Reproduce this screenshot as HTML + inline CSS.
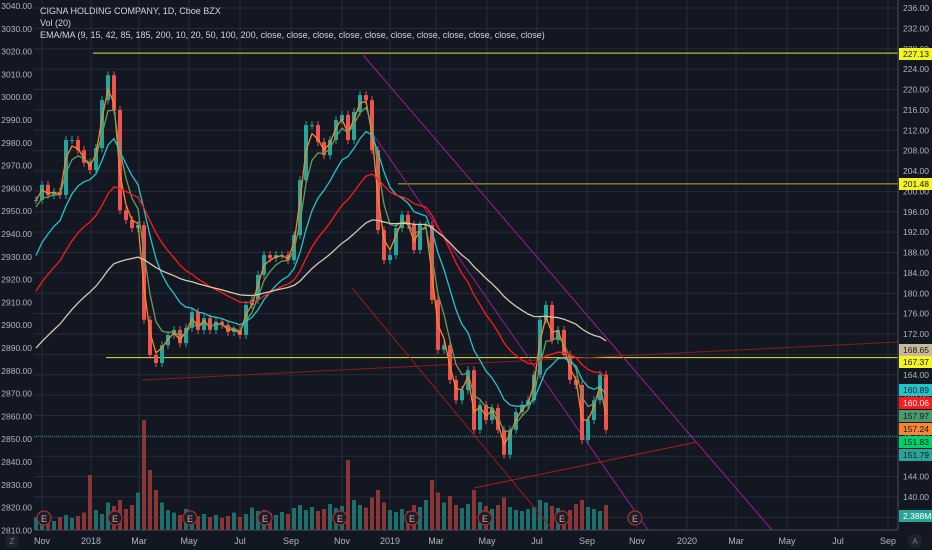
<!DOCTYPE html>
<html><head><meta charset="utf-8"><style>
html,body{margin:0;padding:0;background:#131722;overflow:hidden}
svg{display:block;font-family:"Liberation Sans",sans-serif}
</style></head><body>
<svg id="c" width="932" height="550"></svg>
<script>
const closes=[198.3,201.3,199.3,199.9,199.3,210.1,210.1,208.1,205.6,204.2,208.5,217.9,222.8,216.0,196.3,194.4,192.8,193.4,174.8,167.9,166.3,169.8,171.8,172.8,170.2,173.2,176.3,172.8,175.1,172.8,174.4,173.8,172.4,172.8,171.8,177.7,178.7,183.6,187.5,186.9,187.5,187.5,186.5,191.4,202.2,213.0,213.0,209.7,207.1,210.1,214.0,215.0,210.1,215.6,218.9,217.9,208.1,192.4,186.5,187.5,192.8,195.4,193.4,188.5,193.4,193.4,178.7,168.9,169.8,163.0,159.0,161.0,164.9,153.2,158.1,155.1,157.5,153.2,148.3,153.2,156.7,158.1,159.0,164.0,174.8,177.7,170.8,172.8,167.9,163.0,162.0,151.2,155.1,159.0,164.0,153.2];
const volumes=[2.5,2.0,2.2,1.8,2.6,3.0,2.4,2.8,3.5,11,4.0,3.2,5.5,4.8,6.0,4.2,5.0,7.5,22,12,8.0,5.5,4.0,3.5,3.0,4.2,3.6,2.8,3.2,2.6,3.0,2.4,2.8,3.5,2.6,3.2,4.5,3.8,4.0,3.4,3.0,3.6,3.2,4.4,5.0,4.0,4.6,3.8,4.2,5.2,4.4,4.8,14,6.0,5.0,4.5,6.5,8.0,5.5,4.0,3.6,4.2,3.8,5.0,4.6,6.0,10,7.5,5.5,6.8,5.0,4.4,5.2,8.0,5.6,4.8,4.2,5.0,6.5,4.6,4.0,3.8,4.2,4.6,6.0,5.5,4.8,4.4,3.6,4.0,5.2,6.0,4.6,4.2,3.8,5.0];
const emaSpecs=[{p:2,seed:198,c:"#f7862f",n:"ema-9-line"},{p:4,seed:196,c:"#6a9a5f",n:"ema-15-line"},{p:10,seed:185,c:"#21c5c9",n:"ema-42-line"},{p:22,seed:178.7,c:"#ff1a1a",n:"ema-85-line"},{p:48,seed:168,c:"#d8c8b0",n:"ma-200-line"}];
const rightTicks=[236,232,228,224,220,216,212,208,204,200,196,192,188,184,180,176,172,168,164,160,156,152,148,144,140,136];
const leftTicks=[3040,3030,3020,3010,3000,2990,2980,2970,2960,2950,2940,2930,2920,2910,2900,2890,2880,2870,2860,2850,2840,2830,2820,2810];
const monthLabels=["Nov","2018","Mar","May","Jul","Sep","Nov","2019","Mar","May","Jul","Sep","Nov","2020","Mar","May","Jul","Sep"];
const monthX=[42,91,139,189,240,291,342,390,436,487,537,587,637,687,736,787,838,888];
const earnings=[44,115,190,265,340,412,485,562,635];

const NS="http://www.w3.org/2000/svg",svg=document.getElementById('c');
function el(t,a,p){const e=document.createElementNS(NS,t);for(const k in a)e.setAttribute(k,a[k]);(p||svg).appendChild(e);return e;}
const yP=v=>8+(236-v)*5.094;
const yL=v=>6+(3040-v)*2.28;
const xI=i=>36+i*6;
const yV=v=>530-v*5;

for(const v of rightTicks){const l=el('line',{x1:34,x2:898,y1:yP(v),y2:yP(v),stroke:'#262b38','stroke-width':1});

}
for(const x of monthX){const l=el('line',{x1:x,x2:x,y1:0,y2:530,stroke:'#262b38','stroke-width':1});

}

volumes.forEach((v,i)=>{const up=i==0||closes[i]>=closes[i-1];
const r=el('rect',{x:xI(i)-2,y:yV(v),width:4,height:530-yV(v),fill:up?'#1e6f6b':'#8a3636'});

});

function hl(y,x1,c,n,dash){const l=el('line',{x1:x1,x2:898,y1:y,y2:y,stroke:c,'stroke-width':1,'stroke-dasharray':dash||''});

}
hl(yP(227.13),93,'#e5e52a','resistance-line-227');
hl(yP(201.48),398,'#b8b82a','level-line-201');
hl(yP(167.37),106,'#e5e52a','support-line-167');
hl(yP(151.83),34,'#2a8a80','last-price-line','1 1');

function tl(x1,y1,x2,y2,c,n){const l=el('line',{x1,y1,x2,y2,stroke:c,'stroke-width':1});

}
tl(363,55,772,530,'#9c1c8c','downtrend-line-upper');
tl(370,130,648,530,'#9c1c8c','downtrend-line-lower');
tl(352,288,553,530,'#9a1a1a','channel-line');
tl(142,380,898,342,'#8a1a1a','rising-support-line');
tl(474,488,697,442,'#b01a1a','rising-support-line-2');

closes.forEach((c,i)=>{const o=i?closes[i-1]:c;const up=c>=o;const col=up?'#26a69a':'#ef5350';
const top=yP(Math.max(o,c)),bot=yP(Math.min(o,c));
const w=el('line',{x1:xI(i),x2:xI(i),y1:top-4,y2:bot+4,stroke:col,'stroke-width':1});


const b=el('rect',{x:xI(i)-2,y:top,width:4,height:Math.max(1,bot-top),fill:col});

});

for(const s of emaSpecs){let e=s.seed,a=2/(s.p+1),pts=[];
closes.forEach((c,i)=>{e=e+a*(c-e);pts.push(xI(i)+','+yP(e).toFixed(1));});
const pl=el('polyline',{points:pts.join(' '),fill:'none',stroke:s.c,'stroke-width':1.3});

}

for(const x of earnings){const g=el('g',{});


el('circle',{cx:x,cy:518,r:7,fill:'#1c1e2a',stroke:'#a03232','stroke-width':1.2},g);
const t=el('text',{x:x,y:522,'font-size':9,fill:'#e0a0a0','text-anchor':'middle'},g);t.textContent='E';}

el('rect',{x:898,y:0,width:34,height:550,fill:'#131722'});
el('line',{x1:898,x2:898,y1:0,y2:530,stroke:'#4a4e59'});
el('line',{x1:34,x2:898,y1:530,y2:530,stroke:'#4a4e59'});
for(const v of rightTicks){const t=el('text',{x:903,y:yP(v)+3,'font-size':8.5,fill:'#b2b5be'});t.textContent=v.toFixed(2);

}
for(const v of leftTicks){const t=el('text',{x:32,y:yL(v)+3,'font-size':8.5,fill:'#b2b5be','text-anchor':'end'});t.textContent=v.toFixed(2);

}
monthLabels.forEach((m,i)=>{const t=el('text',{x:monthX[i],y:544,'font-size':9,fill:'#b2b5be','text-anchor':'middle'});t.textContent=m;

});

const tags=[[54,'227.13','#f5f520','#131722'],[184,'201.48','#f5f520','#131722'],[350,'168.65','#c8b89c','#131722'],[362,'167.37','#f5f520','#131722'],[390,'160.89','#21c5c9','#131722'],[403,'160.06','#ff1a1a','#fff'],[416,'157.97','#4c9a6e','#131722'],[429,'157.24','#f7862f','#131722'],[442,'151.83','#00d26a','#131722'],[455,'151.79','#26a69a','#131722'],[516,'2.388M','#26a69a','#fff']];
for(const [y,l,bg,fg] of tags){const g=el('g',{});


el('rect',{x:899,y:y-6,width:33,height:12,fill:bg},g);
const t=el('text',{x:903,y:y+3,'font-size':8.5,fill:fg},g);t.textContent=l;}

const z=el('g',{});
el('circle',{cx:12,cy:541,r:7,fill:'#1e222d'},z);const zt=el('text',{x:12,y:544,'font-size':8,fill:'#787b86','text-anchor':'middle'},z);zt.textContent='Z';
const a=el('g',{});
el('circle',{cx:915,cy:541,r:7,fill:'#1e222d'},a);const at=el('text',{x:915,y:544,'font-size':8,fill:'#787b86','text-anchor':'middle'},a);at.textContent='A';

const leg=["CIGNA HOLDING COMPANY, 1D, Cboe BZX","Vol (20)","EMA/MA (9, 15, 42, 85, 185, 200, 10, 20, 50, 100, 200, close, close, close, close, close, close, close, close, close, close, close)"];
leg.forEach((s,i)=>{const t=el('text',{x:40,y:14+i*12,'font-size':9,fill:'#d1d4dc'});t.textContent=s;

});
</script>
</body></html>
